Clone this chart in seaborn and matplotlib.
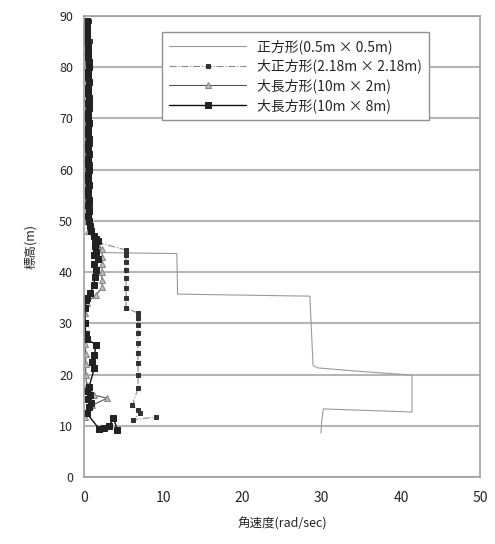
import pandas as pd
import seaborn as sns
import matplotlib.pyplot as plt

# 角速度 (rad/sec) vs 標高 (m)
s1_x = [0.2, 0.3, 0.3, 0.4, 0.5, 0.9, 2.4, 11.7, 11.8, 28.5, 28.9, 29.5, 35.0, 41.4, 41.4, 30.2, 30.0, 29.9]
s1_y = [89, 80, 70, 60, 52, 47, 43.8, 43.6, 35.7, 35.3, 21.8, 21.3, 20.6, 19.9, 12.7, 13.3, 11.0, 8.6]

s2_x = [0.6, 0.7, 0.8, 0.8, 0.8, 0.8, 0.8, 0.8, 0.8, 0.8, 0.9, 1.2,
        5.3, 5.3, 5.3, 5.3, 5.3, 5.3, 5.3, 5.3,
        6.8, 6.8, 6.8, 6.8, 6.8, 6.8, 6.8, 6.8, 6.8,
        6.1, 6.8, 7.0, 6.2, 9.1]
s2_y = [89, 85, 81, 77, 73, 69, 65, 61, 57, 53, 49, 46,
        44.3, 43.4, 42, 40.4, 38.9, 36.9, 35, 33,
        32, 31, 29.7, 28.1, 26.2, 24.2, 22.3, 19.9, 17.4,
        14, 13, 12.5, 11.2, 11.7]

s3_x = [0.2, 0.2, 0.2, 0.2, 0.2, 0.2, 0.2, 0.2, 0.2, 0.2, 0.2, 0.2, 0.2, 0.3, 0.5, 1.5,
        2.2, 2.3, 2.2, 2.3, 2.2, 2.3, 1.5, 0.3, 0.1, 0.1, 0.1, 0.1, 0.2, 0.2, 0.2, 0.3,
        1.2, 2.9, 1.0, 0.3, 0.1]
s3_y = [89, 86, 83, 80, 77, 74, 71, 68, 65, 62, 59, 56, 53, 50, 48, 46,
        44.5, 43, 41.5, 40, 38.5, 37, 35.5, 34, 32, 30, 28, 26, 24, 22, 20, 18,
        16, 15.4, 14, 12.5, 11.8]

s4_x = [0.3, 0.3, 0.35, 0.4, 0.4, 0.45, 0.5, 0.5, 0.55, 0.55, 0.5, 0.5, 0.55, 0.5,
        0.5, 0.55, 0.5, 0.55, 0.5, 0.5, 0.55, 0.5, 0.5, 0.55, 0.5, 0.5, 0.55, 0.5,
        0.5, 0.55, 0.5, 0.5, 0.55, 0.5, 0.5, 0.55, 0.5, 0.6, 0.5, 0.6, 0.7, 0.9,
        1.2, 1.5, 1.8, 1.4, 1.5, 1.3, 1.7, 1.3, 1.5, 1.4, 1.2, 0.8, 0.4, 0.2,
        0.1, 0.1, 0.2, 0.3, 1.5, 1.3, 1.0, 1.3, 0.6, 0.4, 0.8, 0.5, 0.9, 0.6, 0.3,
        1.9, 2.5, 3.2, 3.7, 4.2]
s4_y = [89, 88, 87, 86, 85, 84, 83, 82, 81, 80, 79, 78, 77, 76,
        75, 74, 73, 72, 71, 70, 69, 68, 67, 66, 65, 64, 63, 62,
        61, 60, 59, 58, 57, 56, 55, 54, 53, 52, 51, 50, 49, 48,
        47, 46.5, 46, 45, 44, 43.4, 42.5, 41.5, 40.4, 39, 37.5, 36, 35, 34.5,
        33, 30, 28, 27, 25.8, 23.8, 22.5, 21.3, 17.5, 16.8, 16, 15.3, 14.5, 13.7, 12.5,
        9.4, 9.5, 10.0, 11.5, 9.2]

labels = ['正方形(0.5m × 0.5m)', '大正方形(2.18m × 2.18m)', '大長方形(10m × 2m)', '大長方形(10m × 8m)']

sns.set_style('white')
plt.rcParams['font.family'] = ['Noto Sans CJK JP', 'DejaVu Sans']

fig = plt.figure(figsize=(4.95, 5.44), dpi=100)
ax = fig.add_axes([0.170, 0.123, 0.800, 0.848])

df1 = pd.DataFrame({'x': s1_x, 'y': s1_y})
df2 = pd.DataFrame({'x': s2_x, 'y': s2_y})
df3 = pd.DataFrame({'x': s3_x, 'y': s3_y})
df4 = pd.DataFrame({'x': s4_x, 'y': s4_y})

sns.lineplot(data=df1, x='x', y='y', sort=False, estimator=None, ax=ax,
             color='#9a9a9a', linewidth=0.8, label=labels[0])
sns.lineplot(data=df2, x='x', y='y', sort=False, estimator=None, ax=ax,
             color='#8a8a8a', linewidth=0.8, linestyle='-.', marker='s',
             markersize=3, markerfacecolor='#333333', markeredgecolor='#333333',
             label=labels[1])
sns.lineplot(data=df3, x='x', y='y', sort=False, estimator=None, ax=ax,
             color='#555555', linewidth=0.8, marker='^', markersize=4,
             markerfacecolor='#bbbbbb', markeredgecolor='#888888', label=labels[2])
sns.lineplot(data=df4, x='x', y='y', sort=False, estimator=None, ax=ax,
             color='#111111', linewidth=1.0, marker='s', markersize=5,
             markerfacecolor='#222222', markeredgecolor='#222222', label=labels[3])

ax.set_xlim(0, 50)
ax.set_ylim(0, 90)
ax.set_xticks(range(0, 51, 10))
ax.set_yticks(range(0, 91, 10))
ax.yaxis.grid(True, color='#b5b5b5', linewidth=1.5)
ax.xaxis.grid(False)
ax.set_axisbelow(True)
for sp in ax.spines.values():
    sp.set_color('#a0a0a0')
    sp.set_linewidth(1.2)
ax.tick_params(axis='x', direction='in', length=4, color='#a0a0a0', labelsize=10, pad=10)
ax.tick_params(axis='y', direction='out', length=4, color='#a0a0a0', labelsize=9, pad=4)
ax.set_xlabel('角速度(rad/sec)', fontsize=9, labelpad=9)
ax.set_ylabel('標高(m)', fontsize=9, labelpad=16)

leg = ax.legend(loc='upper left', bbox_to_anchor=(0.18, 0.98), fontsize=10,
                frameon=True, fancybox=False, framealpha=1, edgecolor='#909090',
                handlelength=5.5, labelspacing=0.35, borderpad=0.5)
leg.get_frame().set_linewidth(1.0)

fig.savefig('out.png', dpi=100)
